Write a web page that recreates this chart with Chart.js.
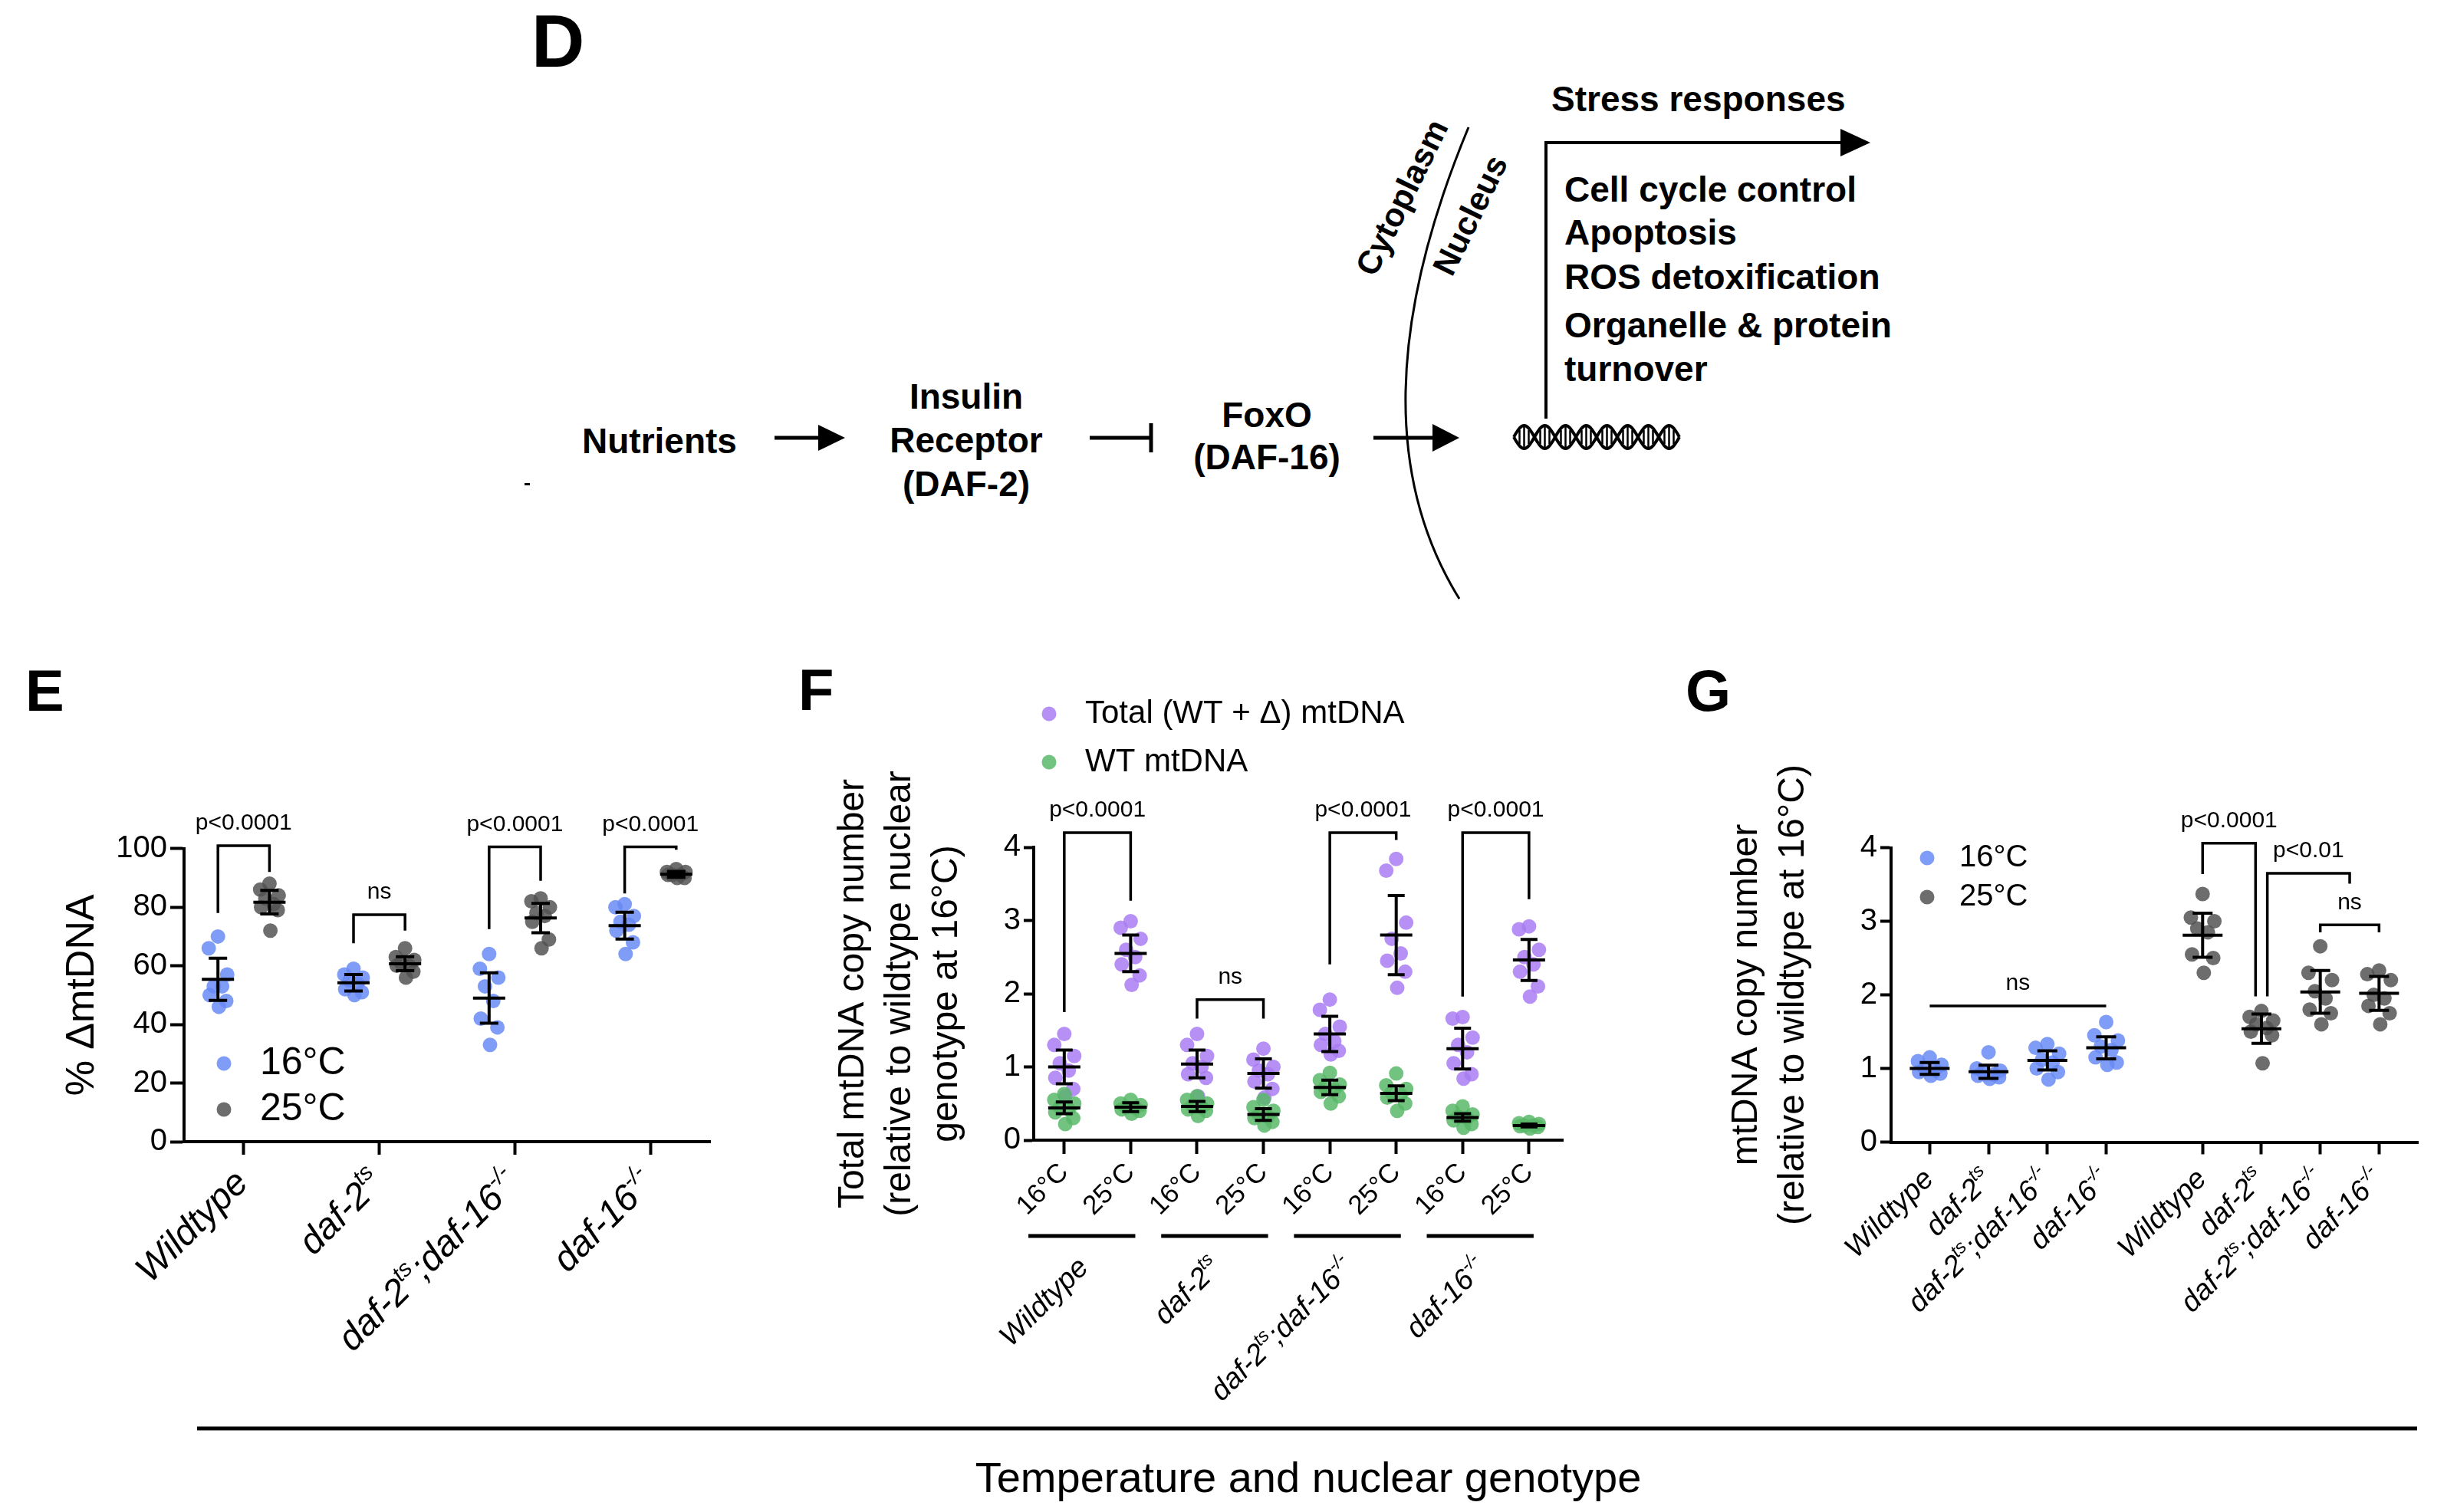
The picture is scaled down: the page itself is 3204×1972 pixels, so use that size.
<!DOCTYPE html>
<html>
<head>
<meta charset="utf-8">
<title>mtDNA heteroplasmy and DAF-16</title>
<script src="https://cdn.jsdelivr.net/npm/chart.js@4.4.1/dist/chart.umd.min.js"></script>
<style>
  html, body { margin: 0; padding: 0; background: #fff; }
  #page { position: relative; width: 3204px; height: 1972px; overflow: hidden; }
  #art { position: absolute; left: 0; top: 0; }
  canvas { position: absolute; }
</style>
</head>
<body>
<div id="page">
  <svg id="art" width="3204" height="1972" xmlns="http://www.w3.org/2000/svg" font-family="Liberation Sans, Arial, sans-serif">
    <g font-weight="bold" fill="#000">
      <text x="693" y="87" font-size="96">D</text>
      <text x="33" y="927" font-size="76">E</text>
      <text x="1041" y="926" font-size="76">F</text>
      <text x="2198" y="927" font-size="76">G</text>
    </g>
    <g font-weight="bold" font-size="46" fill="#000">
      <text x="860" y="591" text-anchor="middle">Nutrients</text>
      <text x="1260" y="533" text-anchor="middle">Insulin</text>
      <text x="1260" y="590" text-anchor="middle">Receptor</text>
      <text x="1260" y="647" text-anchor="middle">(DAF-2)</text>
      <text x="1652" y="557" text-anchor="middle">FoxO</text>
      <text x="1652" y="612" text-anchor="middle">(DAF-16)</text>
      <text x="2023" y="145">Stress responses</text>
      <text x="2040" y="263">Cell cycle control</text>
      <text x="2040" y="319">Apoptosis</text>
      <text x="2040" y="377">ROS detoxification</text>
      <text x="2040" y="440">Organelle &amp; protein</text>
      <text x="2040" y="497">turnover</text>
      <text transform="translate(1831 259) rotate(-64)" text-anchor="middle" dominant-baseline="middle" font-size="43">Cytoplasm</text>
      <text transform="translate(1920 282) rotate(-64)" text-anchor="middle" dominant-baseline="middle" font-size="43">Nucleus</text>
    </g>
    <g id="lines" stroke="#000" fill="none">
      <line x1="1010" y1="571" x2="1072" y2="571" stroke-width="5"/>
      <polygon points="1067,554 1102,571 1067,588" fill="#000" stroke="none"/>
      <line x1="1421" y1="571" x2="1501" y2="571" stroke-width="5"/>
      <line x1="1501" y1="552" x2="1501" y2="590" stroke-width="5"/>
      <line x1="1791" y1="571" x2="1872" y2="571" stroke-width="5"/>
      <polygon points="1868,553 1903,571 1868,589" fill="#000" stroke="none"/>
      <path d="M1915 166 Q1757 546 1903 781" stroke-width="3"/>
      <polyline points="2016,546 2016,186 2405,186" stroke-width="4"/>
      <polygon points="2400,168 2439,186 2400,204" fill="#000" stroke="none"/>
      <line x1="257" y1="1863" x2="3152" y2="1863" stroke-width="5"/>
    </g>
    <rect x="684" y="630" width="7" height="3" fill="#000"/>
    <text x="1706" y="1946" text-anchor="middle" font-size="56" fill="#000">Temperature and nuclear genotype</text>
  </svg>
  <canvas id="chartE" width="1000" height="1012" style="left:0px;top:860px;width:1000px;height:1012px"></canvas>
  <canvas id="chartF" width="1080" height="1000" style="left:1000px;top:860px;width:1080px;height:1000px"></canvas>
  <canvas id="chartG" width="1124" height="1000" style="left:2080px;top:860px;width:1124px;height:1000px"></canvas>
</div>
<script>
// Categories
const genotypes = ['Wildtype', 'daf-2^{ts}', 'daf-2^{ts};daf-16^{-/-}', 'daf-16^{-/-}'];
const temps = ['16°C', '25°C'];

// E: % deletion mtDNA per worm, one row per genotype
const deltaE16 = [
    [70, 66, 57, 53, 50, 48, 46, 53],
    [59, 57, 56, 55, 54, 52, 51, 50],
    [64, 59, 56, 53, 48, 42, 39, 33],
    [81, 80, 77, 75, 74, 72, 68, 64]
];
const deltaE25 = [
    [88, 86, 84, 83, 81, 80, 79, 72],
    [66, 63, 62, 61, 60, 60, 58, 56],
    [83, 82, 80, 78, 77, 75, 69, 66],
    [93, 92, 92, 91, 91, 90, 90, 91]
];
const meanE16 = [55.4, 54.2, 49.0, 73.7];
const sdE16 = [7.2, 2.8, 8.6, 4.6];
const meanE25 = [81.7, 60.7, 76.3, 91.2];
const sdE25 = [4.0, 2.4, 5.0, 1.0];

// F: copy number, order = genotype x temperature (16, 25)
const copyTotal = [
    [1.45, 1.3, 1.15, 1.05, 0.95, 0.85, 0.7, 0.6],
    [2.99, 2.9, 2.75, 2.6, 2.5, 2.4, 2.25, 2.12],
    [1.45, 1.3, 1.15, 1.05, 1.0, 0.9, 0.85, 0.6],
    [1.25, 1.1, 1.0, 0.95, 0.9, 0.8, 0.7, 0.58],
    [1.92, 1.78, 1.55, 1.45, 1.35, 1.3, 1.22, 1.17],
    [3.84, 3.68, 2.97, 2.75, 2.55, 2.45, 2.3, 2.08],
    [1.68, 1.66, 1.4, 1.3, 1.2, 1.05, 0.9, 0.84],
    [2.92, 2.88, 2.6, 2.5, 2.4, 2.3, 2.1, 1.96]
];
const copyWT = [
    [0.63, 0.55, 0.5, 0.45, 0.42, 0.38, 0.3, 0.22],
    [0.55, 0.5, 0.48, 0.45, 0.44, 0.42, 0.4, 0.36],
    [0.6, 0.55, 0.5, 0.47, 0.45, 0.42, 0.4, 0.33],
    [0.55, 0.45, 0.4, 0.35, 0.32, 0.3, 0.25, 0.2],
    [0.92, 0.82, 0.76, 0.72, 0.7, 0.66, 0.6, 0.5],
    [0.91, 0.75, 0.7, 0.65, 0.62, 0.58, 0.5, 0.4],
    [0.46, 0.4, 0.35, 0.32, 0.3, 0.27, 0.22, 0.17],
    [0.25, 0.23, 0.22, 0.2, 0.2, 0.19, 0.18, 0.16]
];
const meanTotal = [1.0, 2.55, 1.04, 0.91, 1.45, 2.8, 1.25, 2.46];
const sdTotal = [0.23, 0.25, 0.19, 0.2, 0.24, 0.54, 0.28, 0.28];
const meanWT = [0.44, 0.45, 0.46, 0.35, 0.72, 0.64, 0.31, 0.2];
const sdWT = [0.08, 0.06, 0.07, 0.08, 0.1, 0.1, 0.05, 0.02];

// G: copy number relative to wildtype at 16C
const copyG16 = [
    [1.15, 1.1, 1.05, 1.0, 0.98, 0.95, 0.93, 0.9],
    [1.22, 1.0, 0.97, 0.95, 0.92, 0.9, 0.88, 0.86],
    [1.33, 1.28, 1.2, 1.12, 1.08, 1.0, 0.95, 0.85],
    [1.63, 1.45, 1.38, 1.3, 1.25, 1.15, 1.08, 1.05]
];
const copyG25 = [
    [3.37, 3.05, 3.0, 2.9, 2.85, 2.55, 2.5, 2.3],
    [1.78, 1.7, 1.65, 1.6, 1.55, 1.5, 1.45, 1.07],
    [2.66, 2.3, 2.2, 2.05, 1.95, 1.8, 1.75, 1.6],
    [2.33, 2.28, 2.2, 2.0, 1.95, 1.85, 1.75, 1.6]
];
const meanG16 = [1.0, 0.955, 1.11, 1.28];
const sdG16 = [0.08, 0.09, 0.13, 0.15];
const meanG25 = [2.81, 1.54, 2.04, 2.02];
const sdG25 = [0.3, 0.2, 0.29, 0.23];

const FONT = "'Liberation Sans', Arial, Helvetica, sans-serif";
const BLUE = 'rgba(104, 139, 246, 0.85)';
const GRAY = 'rgba(84, 84, 84, 0.85)';
const PURPLE = 'rgba(169, 124, 242, 0.85)';
const GREEN = 'rgba(89, 184, 104, 0.85)';

// DNA helix in panel D
(function drawHelix() {
    const g = document.getElementById('lines');
    const x0 = 1974, x1 = 2190, yc = 570, amp = 15, half = 27;
    const ns = 'http://www.w3.org/2000/svg';
    [0, Math.PI].forEach(phase => {
        let d = '';
        for (let x = x0; x <= x1; x += 2) {
            const y = yc + amp * Math.sin(Math.PI * (x - x0) / half + phase);
            d += (x === x0 ? 'M' : 'L') + x + ' ' + y.toFixed(1) + ' ';
        }
        const p = document.createElementNS(ns, 'path');
        p.setAttribute('d', d);
        p.setAttribute('stroke-width', '4');
        g.appendChild(p);
    });
    for (let x = x0 + half / 2; x < x1; x += half) {
        [-6, 0, 6].forEach(dx => {
            const l = document.createElementNS(ns, 'line');
            l.setAttribute('x1', x + dx); l.setAttribute('x2', x + dx);
            l.setAttribute('y1', yc - (dx ? 9 : 13)); l.setAttribute('y2', yc + (dx ? 9 : 13));
            l.setAttribute('stroke-width', '2.5');
            g.appendChild(l);
        });
    }
})();

// spread points of one group sideways, by rank (no randomness)
function rankOffsets(values, spread) {
    const pattern = [0, -1, 1, -0.45, 0.45, -0.9, 0.9, 0.1];
    const order = values.map((v, i) => i).sort((a, b) => values[b] - values[a]);
    const out = new Array(values.length);
    order.forEach((idx, r) => { out[idx] = pattern[r % pattern.length] * spread; });
    return out;
}

function scatterPoints(groups, xPos, spread) {
    const pts = [];
    groups.forEach((vals, g) => {
        const off = rankOffsets(vals, spread);
        vals.forEach((v, i) => pts.push({ x: xPos(g) + off[i], y: v }));
    });
    return pts;
}

// text with ^{superscript} parts, italic, rotated 45deg, ending at (x, y)
function parseRich(str) {
    const parts = [];
    const re = /\^\{([^}]*)\}/g;
    let last = 0, m;
    while ((m = re.exec(str))) {
        if (m.index > last) parts.push({ text: str.slice(last, m.index), sup: false });
        parts.push({ text: m[1], sup: true });
        last = re.lastIndex;
    }
    if (last < str.length) parts.push({ text: str.slice(last), sup: false });
    return parts;
}

function drawRotatedLabel(ctx, str, x, y, size) {
    const parts = parseRich(str);
    const fontFor = p => `italic ${p.sup ? Math.round(size * 0.62) : size}px ${FONT}`;
    let total = 0;
    parts.forEach(p => { ctx.font = fontFor(p); p.w = ctx.measureText(p.text).width; total += p.w; });
    ctx.save();
    ctx.translate(x, y);
    ctx.rotate(-Math.PI / 4);
    ctx.fillStyle = '#000';
    ctx.textAlign = 'left';
    ctx.textBaseline = 'alphabetic';
    let cx = -total;
    parts.forEach(p => {
        ctx.font = fontFor(p);
        ctx.fillText(p.text, cx, p.sup ? -size * 0.42 : 0);
        cx += p.w;
    });
    ctx.restore();
}

function overlayPlugin(cfg) {
    return {
        id: 'overlay',
        afterDatasetsDraw(chart) {
            const { ctx, scales: { x, y } } = chart;
            ctx.save();
            ctx.strokeStyle = '#000';
            ctx.lineWidth = 4;
            cfg.errorBars.forEach(b => {
                const px = x.getPixelForValue(b.x);
                const pm = y.getPixelForValue(b.mean);
                const pt = y.getPixelForValue(b.mean + b.sd);
                const pb = y.getPixelForValue(b.mean - b.sd);
                ctx.beginPath();
                ctx.moveTo(px - cfg.half, pm); ctx.lineTo(px + cfg.half, pm);
                ctx.moveTo(px, pt); ctx.lineTo(px, pb);
                ctx.moveTo(px - cfg.cap, pt); ctx.lineTo(px + cfg.cap, pt);
                ctx.moveTo(px - cfg.cap, pb); ctx.lineTo(px + cfg.cap, pb);
                ctx.stroke();
            });
            ctx.restore();
        },
        afterDraw(chart) {
            const { ctx, scales: { x, y } } = chart;
            ctx.save();
            // significance brackets
            ctx.strokeStyle = '#000';
            ctx.fillStyle = '#000';
            ctx.lineWidth = 3.5;
            (cfg.brackets || []).forEach(b => {
                const X1 = x.getPixelForValue(b.x1), X2 = x.getPixelForValue(b.x2);
                const T = y.getPixelForValue(b.top);
                ctx.beginPath();
                if (b.left != null) { ctx.moveTo(X1, y.getPixelForValue(b.left)); ctx.lineTo(X1, T); }
                else ctx.moveTo(X1, T);
                ctx.lineTo(X2, T);
                if (b.right != null) ctx.lineTo(X2, y.getPixelForValue(b.right));
                ctx.stroke();
                ctx.font = `30px ${FONT}`;
                ctx.textAlign = 'center';
                ctx.textBaseline = 'middle';
                ctx.fillText(b.label, (X1 + X2) / 2, T - 29);
            });
            // legend
            if (cfg.legend) {
                const L = cfg.legend;
                chart.data.datasets.forEach((ds, k) => {
                    const i = L.order[k];
                    const cy = L.y + i * L.gap;
                    ctx.fillStyle = ds.backgroundColor;
                    ctx.beginPath();
                    ctx.arc(L.x, cy, 9.5, 0, Math.PI * 2);
                    ctx.fill();
                    ctx.fillStyle = '#000';
                    ctx.font = `${L.size}px ${FONT}`;
                    ctx.textAlign = 'left';
                    ctx.textBaseline = 'middle';
                    ctx.fillText(ds.label, L.tx, cy);
                });
            }
            // genotype labels and group lines
            if (cfg.groupLines) {
                const G = cfg.groupLines;
                ctx.lineWidth = 5;
                G.groups.forEach((c, i) => {
                    const ly = chart.chartArea.bottom + G.dy;
                    ctx.beginPath();
                    ctx.moveTo(x.getPixelForValue(c - 0.54), ly);
                    ctx.lineTo(x.getPixelForValue(c + 1.07), ly);
                    ctx.stroke();
                    drawRotatedLabel(ctx, genotypes[i], x.getPixelForValue(c + 0.5) - 10, ly + 43, G.size);
                });
            }
            if (cfg.labels) {
                const Lb = cfg.labels;
                Lb.text.forEach((t, i) => {
                    drawRotatedLabel(ctx, t, x.getPixelForValue(Lb.pos[i]) + Lb.dx, chart.chartArea.bottom + Lb.dy, Lb.size);
                });
            }
            ctx.restore();
        }
    };
}

function yAxis(max, step, title, titleSize, titleLine, titlePad, width, tickLen) {
    return {
        type: 'linear', min: 0, max: max,
        ticks: { stepSize: step, color: '#000', font: { family: FONT, size: 40 }, padding: 4 },
        grid: { display: true, drawOnChartArea: false, drawTicks: true, tickLength: tickLen, tickWidth: 4, tickColor: '#000' },
        border: { display: true, color: '#000', width: 4 },
        title: { display: true, text: title, color: '#000', font: { family: FONT, size: titleSize, lineHeight: titleLine }, padding: { top: titlePad, bottom: 0 } },
        afterFit: s => { s.width = width; }
    };
}

function xAxis(min, max, positions, tickLen, height, tickOpts) {
    return {
        type: 'linear', min: min, max: max,
        afterBuildTicks: s => { s.ticks = positions.map(v => ({ value: v })); },
        ticks: tickOpts || { display: false },
        grid: { display: true, drawOnChartArea: false, drawTicks: true, tickLength: tickLen, tickWidth: 4, tickColor: '#000' },
        border: { display: true, color: '#000', width: 4 },
        afterFit: s => { s.height = height; }
    };
}

const common = {
    responsive: false,
    animation: false,
    devicePixelRatio: 1,
    plugins: { legend: { display: false }, tooltip: { enabled: false } },
    elements: { point: { radius: 9.5, borderWidth: 0, hoverRadius: 9.5 } }
};

// ---------- E ----------
const offE = 0.19;
const errE = [];
genotypes.forEach((g, i) => {
    errE.push({ x: i - offE, mean: meanE16[i], sd: sdE16[i] });
    errE.push({ x: i + offE, mean: meanE25[i], sd: sdE25[i] });
});
new Chart(document.getElementById('chartE'), {
    type: 'scatter',
    data: {
        datasets: [
            { label: temps[0], data: scatterPoints(deltaE16, g => g - offE, 0.068), backgroundColor: BLUE, pointBorderWidth: 0 },
            { label: temps[1], data: scatterPoints(deltaE25, g => g + offE, 0.068), backgroundColor: GRAY, pointBorderWidth: 0 }
        ]
    },
    options: {
        ...common,
        layout: { padding: { left: 0, top: 246.7, right: 74, bottom: 353 } },
        scales: {
            x: xAxis(-0.44, 3.44, [0, 1, 2, 3], 17, 30),
            y: yAxis(100, 20, '% ΔmtDNA', 52, 1.2, 76.8, 240, 18)
        }
    },
    plugins: [overlayPlugin({
        errorBars: errE, half: 21, cap: 12,
        brackets: [
            { x1: 0 - offE, x2: 0 + offE, top: 101, left: 78, right: 92, label: 'p<0.0001' },
            { x1: 1 - offE, x2: 1 + offE, top: 77.4, left: 67.7, right: 72, label: 'ns' },
            { x1: 2 - offE, x2: 2 + offE, top: 100.6, left: 72.5, right: 89, label: 'p<0.0001' },
            { x1: 3 - offE, x2: 3 + offE, top: 100.6, left: 84.7, right: 99.6, label: 'p<0.0001' }
        ],
        legend: { x: 292, tx: 339, y: 527, gap: 60, size: 50, order: [0, 1] },
        labels: { text: genotypes, pos: [0, 1, 2, 3], dx: 8, dy: 56, size: 48 }
    })]
});

// ---------- F ----------
const posF = copyTotal.map((_, i) => i);
const errF = [];
posF.forEach(i => {
    errF.push({ x: i, mean: meanTotal[i], sd: sdTotal[i] });
    errF.push({ x: i, mean: meanWT[i], sd: sdWT[i] });
});
new Chart(document.getElementById('chartF'), {
    type: 'scatter',
    data: {
        datasets: [
            { label: 'Total (WT + Δ) mtDNA', data: scatterPoints(copyTotal, g => g, 0.15), backgroundColor: PURPLE, pointBorderWidth: 0, order: 2 },
            { label: 'WT mtDNA', data: scatterPoints(copyWT, g => g, 0.15), backgroundColor: GREEN, pointBorderWidth: 0, order: 1 }
        ]
    },
    options: {
        ...common,
        layout: { padding: { left: 0, top: 245, right: 42, bottom: 273 } },
        scales: {
            x: xAxis(-0.46, 7.51, posF, 18, 100, {
                display: true, autoSkip: false, minRotation: 45, maxRotation: 45, padding: 4,
                color: '#000', font: { family: FONT, size: 35 },
                callback: (v, i) => temps[i % 2]
            }),
            y: yAxis(4, 1, ['Total mtDNA copy number', '(relative to wildtype nuclear', 'genotype at 16°C)'], 48, 1.27, 82.5, 348, 13)
        }
    },
    plugins: [overlayPlugin({
        errorBars: errF, half: 21, cap: 11,
        brackets: [
            { x1: 0, x2: 1, top: 4.2, left: 1.75, right: 3.27, label: 'p<0.0001' },
            { x1: 2, x2: 3, top: 1.92, left: 1.66, right: 1.66, label: 'ns' },
            { x1: 4, x2: 5, top: 4.2, left: 2.4, right: 4.1, label: 'p<0.0001' },
            { x1: 6, x2: 7, top: 4.2, left: 1.96, right: 3.29, label: 'p<0.0001' }
        ],
        legend: { x: 368, tx: 415, y: 71, gap: 63, size: 42, order: [0, 1] },
        groupLines: { groups: [0, 2, 4, 6], dy: 125, size: 38 }
    })]
});

// ---------- G ----------
const gapG = 0.64;
const posG = [0, 1, 2, 3, 4, 5, 6, 7].map(i => i + (i >= 4 ? gapG : 0));
const errG = [];
genotypes.forEach((g, i) => {
    errG.push({ x: posG[i], mean: meanG16[i], sd: sdG16[i] });
    errG.push({ x: posG[i + 4], mean: meanG25[i], sd: sdG25[i] });
});
new Chart(document.getElementById('chartG'), {
    type: 'scatter',
    data: {
        datasets: [
            { label: temps[0], data: scatterPoints(copyG16, g => posG[g], 0.2), backgroundColor: BLUE, pointBorderWidth: 0 },
            { label: temps[1], data: scatterPoints(copyG25, g => posG[g + 4], 0.2), backgroundColor: GRAY, pointBorderWidth: 0 }
        ]
    },
    options: {
        ...common,
        layout: { padding: { left: 0, top: 245.5, right: 51, bottom: 340.5 } },
        scales: {
            x: xAxis(-0.657, 8.3, posG, 16, 30),
            y: yAxis(4, 1, ['mtDNA copy number', '(relative to wildtype at 16°C)'], 48, 1.27, 167.5, 386, 14)
        }
    },
    plugins: [overlayPlugin({
        errorBars: errG, half: 26, cap: 13,
        brackets: [
            { x1: posG[0], x2: posG[3], top: 1.85, left: null, right: null, label: 'ns' },
            { x1: posG[4], x2: posG[5] - 0.1, top: 4.06, left: 3.64, right: 1.98, label: 'p<0.0001' },
            { x1: posG[5] + 0.1, x2: (posG[6] + posG[7]) / 2, top: 3.65, left: 1.98, right: 3.51, label: 'p<0.01' },
            { x1: posG[6], x2: posG[7], top: 2.95, left: 2.85, right: 2.85, label: 'ns' }
        ],
        legend: { x: 433, tx: 475, y: 259, gap: 51, size: 40, order: [0, 1] },
        labels: { text: genotypes.concat(genotypes), pos: posG, dx: 7, dy: 50, size: 38 }
    })]
});
</script>
</body>
</html>
